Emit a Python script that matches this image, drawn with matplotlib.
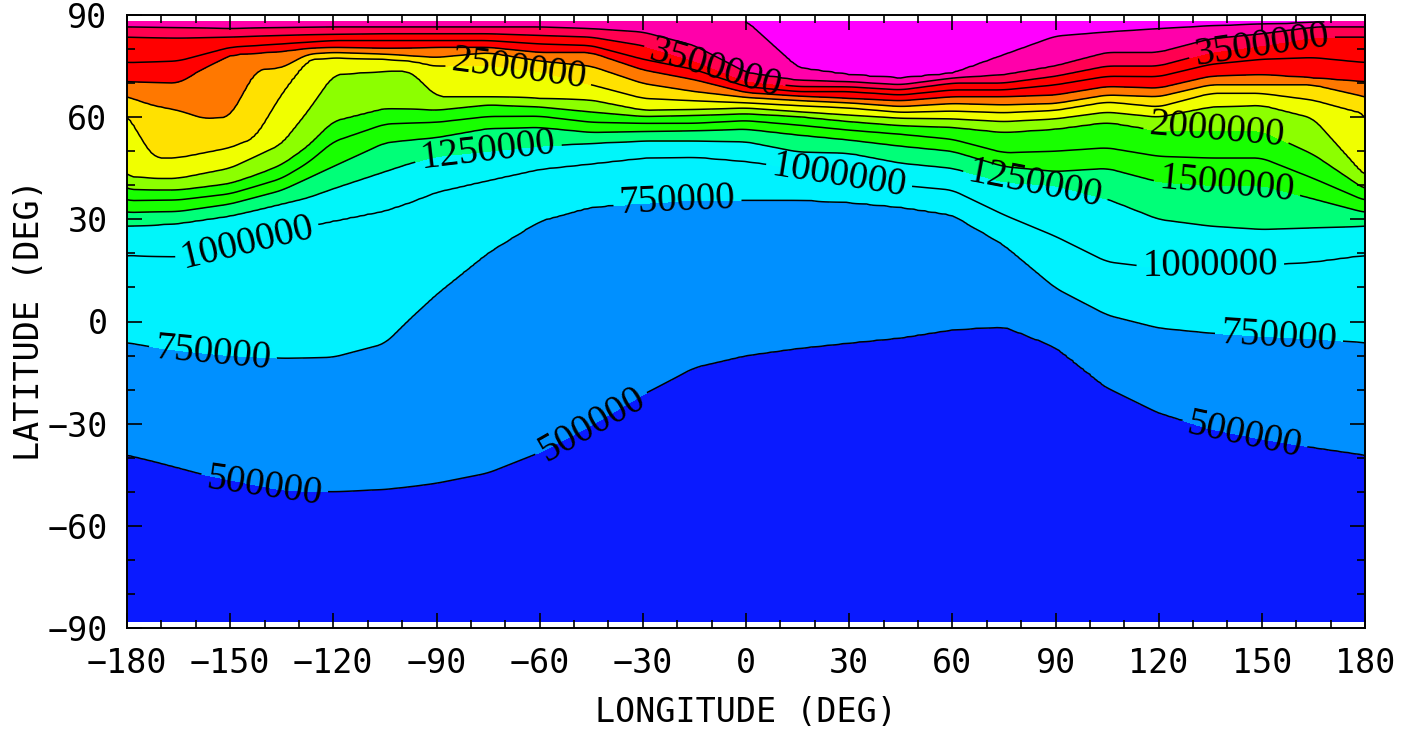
import numpy as np
import matplotlib
matplotlib.use("Agg")
import matplotlib.pyplot as plt
from matplotlib.ticker import MultipleLocator

# ---------------- data ----------------
# Longitudes of the sampled columns
LONS = [-180, -172.5, -165, -157.5, -150, -142.5, -135, -127.5, -120, -105, -97.5, -90,
        -75, -60, -45, -30, -15,
        0, 15, 30, 45, 60, 75, 90, 105, 120, 135, 150, 165, 180]

# Latitude where each contour level crosses each column (south -> north)
L050 = [-39.2, -41, -43, -45, -46.5, -48, -49.5, -49.8, -50, -49.3, -48.5, -47.5,
        -44.5, -38.5, -30.5, -21.5, -13.5,
        -10, -7.9, -6.3, -4.8, -2.4, -1.5, -7.5, -19.5, -26.8, -31.5, -34.5, -37, -39.2]
L075 = [-6.2, -7.5, -8.5, -9.3, -10, -10.4, -10.8, -10.7, -10.5, -6.5, 1, 8,
        20.2, 29.5, 33.6, 34.8, 35.7,
        35.7, 35.7, 35, 33.6, 31.3, 22.5, 9.8, 1.9, -1.9, -3.4, -4.3, -5.1, -6.2]
L100 = [19.5, 19.2, 19, 20.5, 22, 24, 26, 28, 29.5, 32.5, 35, 38,
        41.4, 44.7, 46.3, 48, 48.3,
        47, 45, 42, 40, 38.6, 31.3, 25, 17.5, 15.7, 16.5, 16.5, 17.5, 19.5]
L125 = [28, 28.3, 28.8, 29.9, 31, 32.7, 34.5, 36.3, 39, 44, 46.5, 48.5,
        50, 51.5, 52.3, 53, 53,
        52.8, 49.8, 49.4, 46.5, 45, 41, 40, 36, 30, 28, 27, 27.5, 28]
L150 = [32, 32.2, 32.3, 33.4, 34.5, 36.5, 38.5, 42, 45.5, 52.5, 53.3, 54,
        56.7, 57, 55.5, 55.8, 56,
        56.5, 54.8, 53.3, 51.5, 50, 45.5, 44, 45, 41, 40, 40, 36, 32]
L175 = [35.5, 35.6, 35.7, 36.6, 37.5, 39.7, 42, 46.5, 52.8, 58, 58.3, 58.5,
        60.2, 60.3, 58.5, 58.2, 58.2,
        59, 57.7, 56.2, 55, 53.5, 49.5, 50, 51, 48.5, 48, 48, 42, 35.5]
L200 = [38.8, 38.6, 38.6, 39.5, 40.5, 43, 46, 51.3, 58.7, 62.5, 62.3, 62,
        63.6, 63, 61.5, 60.2, 60.5,
        61, 60.2, 58.7, 57.5, 57, 55.5, 56.5, 58.5, 56, 56, 56, 49, 38.8]
L225 = [42.5, 42, 42, 43.5, 45, 48.5, 52, 61.5, 72.5, 73.5, 73.5, 66,
        66, 65.5, 65, 62, 62.2,
        62.7, 61.6, 60.6, 59.7, 59.5, 58.7, 59.5, 61.5, 60, 63, 63.5, 59.7, 42.5]
L250 = [61, 48, 48, 49.5, 51, 54, 67, 77, 77.5, 77, 76.5, 75,
        75.3, 73.5, 69.5, 65.5, 64.8,
        64.2, 63.4, 62.7, 61.4, 61.8, 61.3, 62, 64.5, 63, 67, 67, 65, 61]
L275 = [66, 63.5, 62, 59.5, 60, 74, 74.5, 78.5, 79, 78.5, 78, 77.5,
        79, 76.5, 75, 69.9, 67.5,
        65.8, 64.9, 64.2, 63.1, 64, 63.6, 64, 66.5, 66, 69.5, 69.5, 69.5, 66]
L300 = [70.4, 70.2, 70, 74.5, 78.3, 78.8, 79.3, 80.2, 80.5, 80.2, 80.3, 80.5,
        80.5, 79, 79, 73.9, 71,
        67.2, 66.2, 65.5, 64.8, 66, 66, 66.5, 69, 68.5, 72, 72.5, 71.5, 70.4]
L325 = [76, 76.2, 76.5, 78.5, 80.5, 81, 81.5, 82, 82.5, 82.5, 82.5, 82.5,
        82.5, 81.5, 81, 77, 74,
        69, 67.5, 67.5, 66.5, 68, 68, 69.5, 72, 71.9, 75.5, 77, 77.5, 76]
L350 = [83.5, 83.4, 83.3, 83.4, 83.5, 83.8, 84, 84.2, 84.3, 84.5, 84.5, 84.5,
        84.5, 84, 83.5, 81, 76.5,
        70.5, 69, 68.9, 68, 70, 70, 72, 75, 75, 79, 81, 83.5, 83.5]
L375 = [86.5, 86.4, 86.3, 86.2, 86, 86.2, 86.3, 86.4, 86.5, 86.5, 86.5, 86.5,
        86.5, 86.5, 86, 85, 81,
        73, 70.8, 70.4, 69.5, 71.5, 72.4, 75, 79, 79, 83, 84.5, 86.5, 86.5]
L400 = [89, 89, 89, 89, 89, 89, 89, 89, 89, 89, 89, 89,
        89, 89, 89, 89, 88.8,
        88.5, 74.5, 72.4, 71.4, 72.8, 78.3, 83.8, 85, 86, 86.8, 87.3, 87.7, 89]

LEVELS = [500000, 750000, 1000000, 1250000, 1500000, 1750000, 2000000, 2250000,
          2500000, 2750000, 3000000, 3250000, 3500000, 3750000, 4000000]
CROSSINGS = [L050, L075, L100, L125, L150, L175, L200, L225,
             L250, L275, L300, L325, L350, L375, L400]
SOUTH_VALUE = 300000
NORTH_VALUE = 4300000

BAND_COLORS = ['#0a1aff', '#0090ff', '#00f2ff', '#00f6fa', '#00ff78', '#18ff00',
               '#18ff00', '#8cff00', '#f0ff00', '#ffe100', '#ff7800', '#ff0000',
               '#ff0000', '#ff0050', '#ff00aa', '#ff00ff']

LABEL_SPOTS = {
    500000: [(-140, -48), (-45, -30), (145, -33)],
    750000: [(-155, -9), (-20, 35.7), (155, -4.5)],
    1000000: [(-145, 23), (27, 42.5), (135, 16.5)],
    1250000: [(-75, 50), (84, 38)],
    1500000: [(140, 40)],
    2000000: [(137, 56)],
    2500000: [(-66, 74)],
    3500000: [(-10, 72), (150, 81)],
}

XTICKS = list(range(-180, 181, 30))
YTICKS = list(range(-90, 91, 30))

# ---------------- build the field ----------------
lon_f = np.arange(-180, 180.01, 1.0)
lat_f = np.linspace(-88, 88, 353)


def smooth_periodic(y, w):
    core = y[:-1]
    h = w // 2
    ext = np.concatenate([core[-h:], core, core[:h]])
    sm = np.convolve(ext, np.ones(w) / w, mode='valid')
    return np.append(sm, sm[0])


cross = np.array([smooth_periodic(np.interp(lon_f, LONS, c), 5) for c in CROSSINGS])
vals = np.concatenate([[SOUTH_VALUE], LEVELS, [NORTH_VALUE]]).astype(float)
Z = np.empty((lat_f.size, lon_f.size))
for j in range(lon_f.size):
    xp = np.concatenate([[-95.0], cross[:, j], [95.0]])
    xp = np.maximum.accumulate(xp) + np.arange(xp.size) * 1e-6
    Z[:, j] = np.interp(lat_f, xp, vals)

# ---------------- plot ----------------
plt.rcParams['font.family'] = 'Liberation Serif'
fig = plt.figure(figsize=(14.13, 7.41), dpi=100)
ax = fig.add_axes([127 / 1413, 1 - 628 / 741, (1365 - 127) / 1413, (628 - 15) / 741])

fill_levels = [0] + LEVELS + [1e9]
ax.contourf(lon_f, lat_f, Z, levels=fill_levels, colors=BAND_COLORS)

for lev in LEVELS:
    cs = ax.contour(lon_f, lat_f, Z, levels=[lev], colors='k', linewidths=1.1)
    if lev in LABEL_SPOTS:
        ax.clabel(cs, manual=LABEL_SPOTS[lev], inline=True, inline_spacing=6,
                  fmt=lambda v: f"{int(round(v))}", fontsize=28)

ax.set_xlim(-180, 180)
ax.set_ylim(-90, 90)
ax.set_xticks(XTICKS)
ax.set_yticks(YTICKS)
ax.xaxis.set_minor_locator(MultipleLocator(10))
ax.yaxis.set_minor_locator(MultipleLocator(10))
ax.tick_params(which='both', direction='in', top=True, right=True, width=1.2)
ax.tick_params(which='major', length=11, pad=14, labelsize=24)
ax.tick_params(which='minor', length=6)
for lbl in ax.get_xticklabels() + ax.get_yticklabels():
    lbl.set_family('DejaVu Sans Mono')
for sp in ax.spines.values():
    sp.set_linewidth(1.4)

fig.text(746 / 1413, 1 - 712 / 741, 'LONGITUDE (DEG)', ha='center', va='center',
         fontsize=24, family='DejaVu Sans Mono')
fig.text(30 / 1413, 1 - 320 / 741, 'LATITUDE (DEG)', ha='center', va='center',
         rotation=90, fontsize=24, family='DejaVu Sans Mono')

fig.savefig('out.png', dpi=100)
